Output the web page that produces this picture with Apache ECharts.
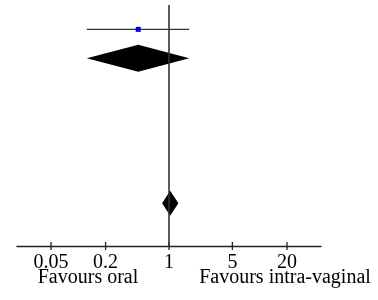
<!DOCTYPE html>
<html>
<head>
<meta charset="utf-8">
<script src="https://cdn.jsdelivr.net/npm/echarts@6/dist/echarts.min.js"></script>
<style>
  html, body { margin: 0; padding: 0; background: #fff; }
  #chart { width: 378px; height: 300px; }
</style>
</head>
<body>
<div id="chart"></div>
<script>
  // study row: odds ratio with 95% CI
  var studyRows = [1];
  var studyEst = [0.458];
  var studyLow = [0.124];
  var studyHigh = [1.67];

  // pooled diamonds (row, low, estimate, high)
  var diamondRows = [2, 7];
  var diamondLow = [0.124, 0.84];
  var diamondEst = [0.458, 1.03];
  var diamondHigh = [1.67, 1.27];
  var diamondHalf = [13.5, 12.5];

  var tickValues = [0.05, 0.2, 1, 5, 20];
  var sideLabels = ['Favours oral', 'Favours intra-vaginal'];

  var chart = echarts.init(document.getElementById('chart'));

  var font = 'Liberation Serif';
  // x axis is drawn on log10 of the odds ratio
  var lg = function (v) { return Math.log10(v); };
  var tickLogs = tickValues.map(lg);

  var studyData = [];
  for (var i = 0; i < studyRows.length; i++) {
    studyData.push([lg(studyLow[i]), lg(studyEst[i]), lg(studyHigh[i]), studyRows[i]]);
  }
  var diamondData = [];
  for (var j = 0; j < diamondRows.length; j++) {
    diamondData.push([lg(diamondLow[j]), lg(diamondEst[j]), lg(diamondHigh[j]), diamondRows[j], diamondHalf[j]]);
  }

  function tickName(v) {
    var best = 0;
    for (var k = 1; k < tickLogs.length; k++) {
      if (Math.abs(tickLogs[k] - v) < Math.abs(tickLogs[best] - v)) best = k;
    }
    return String(tickValues[best]);
  }

  var xMin = -1.676, xMax = 1.676;
  var yMin = 0.16, yMax = 8.47;

  var option = {
    animation: false,
    grid: { left: 17, right: 57, top: 5, bottom: 54 },
    xAxis: {
      type: 'value',
      min: xMin,
      max: xMax,
      splitLine: { show: false },
      axisLine: { show: true, lineStyle: { color: '#222', width: 1.3 } },
      axisTick: { show: false },
      axisLabel: {
        customValues: tickLogs,
        color: '#000',
        fontFamily: font,
        fontSize: 20,
        margin: 7,
        formatter: tickName
      }
    },
    yAxis: {
      type: 'value',
      inverse: true,
      min: yMin,
      max: yMax,
      show: false
    },
    graphic: [{
      type: 'text', x: 88, y: 278,
      style: { text: sideLabels[0], font: '20px "Liberation Serif"', fill: '#000', textAlign: 'center', textVerticalAlign: 'middle' }
    }, {
      type: 'text', x: 285, y: 278,
      style: { text: sideLabels[1], font: '20px "Liberation Serif"', fill: '#000', textAlign: 'center', textVerticalAlign: 'middle' }
    }],
    series: [{
      type: 'custom',
      name: 'study',
      clip: false,
      data: studyData,
      encode: { x: [0, 1, 2], y: 3 },
      markLine: {
        silent: true,
        symbol: 'none',
        label: { show: false },
        lineStyle: { color: '#333', width: 1.6, type: 'solid' },
        data: [{ xAxis: 0 }]
      },
      renderItem: function (params, api) {
        var lo = api.coord([api.value(0), api.value(3)]);
        var est = api.coord([api.value(1), api.value(3)]);
        var hi = api.coord([api.value(2), api.value(3)]);
        var children = [{
          type: 'line',
          shape: { x1: lo[0], y1: lo[1], x2: hi[0], y2: hi[1] },
          style: { stroke: '#333', lineWidth: 1.3 }
        }, {
          type: 'rect',
          shape: { x: est[0] - 2.5, y: est[1] - 2.5, width: 5, height: 5 },
          style: { fill: '#0000ee' }
        }];
        // tick marks crossing the axis line (bottom edge of the grid), drawn once
        if (params.dataIndex === 0) {
          var cs = params.coordSys;
          var axisY = cs.y + cs.height;
          tickLogs.forEach(function (v) {
            var px = api.coord([v, api.value(3)])[0];
            children.push({
              type: 'rect',
              shape: { x: px - 0.65, y: axisY - 4, width: 1.3, height: 8 },
              style: { fill: '#222' }
            });
          });
        }
        return { type: 'group', children: children };
      }
    }, {
      type: 'custom',
      name: 'pooled',
      data: diamondData,
      encode: { x: [0, 1, 2], y: 3 },
      renderItem: function (params, api) {
        var lo = api.coord([api.value(0), api.value(3)]);
        var est = api.coord([api.value(1), api.value(3)]);
        var hi = api.coord([api.value(2), api.value(3)]);
        var h = api.value(4);
        return {
          type: 'polygon',
          shape: { points: [[lo[0], lo[1]], [est[0], est[1] - h], [hi[0], hi[1]], [est[0], est[1] + h]] },
          style: { fill: '#000' }
        };
      }
    }]
  };

  chart.setOption(option);
</script>
</body>
</html>
